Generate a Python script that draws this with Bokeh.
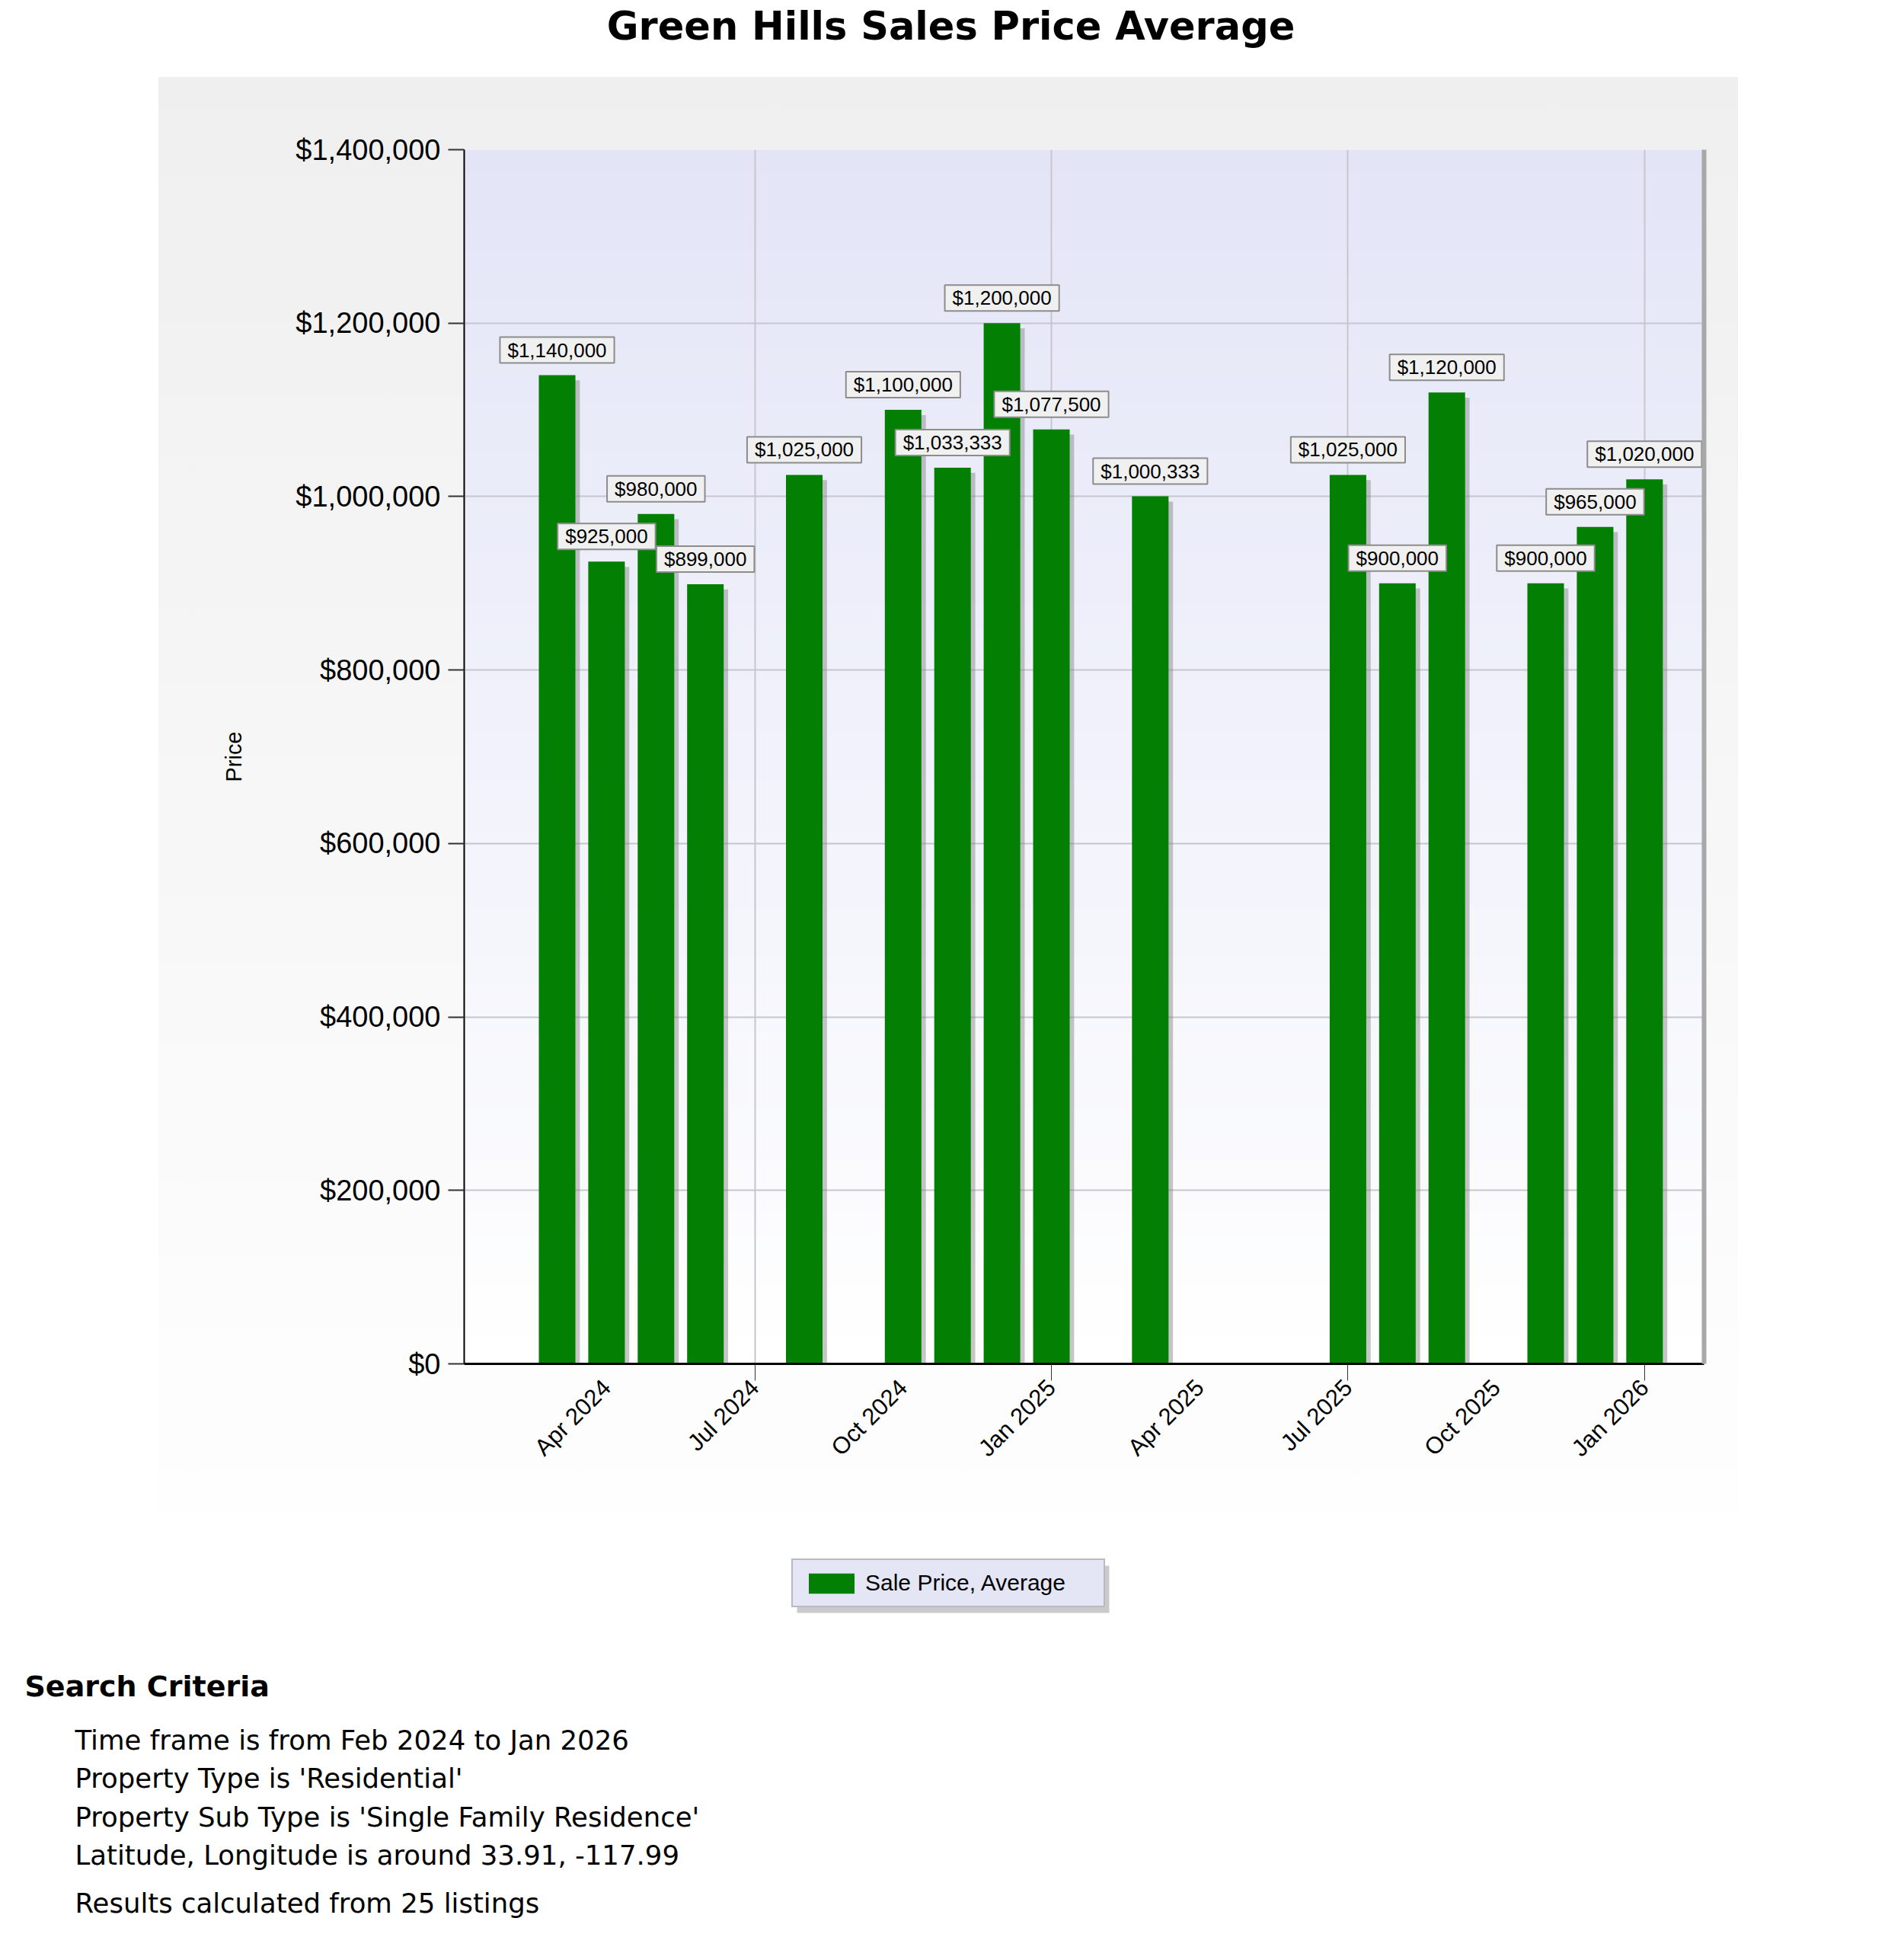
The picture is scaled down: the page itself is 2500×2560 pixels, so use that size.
import numpy as np
from bokeh.plotting import figure
from bokeh.layouts import column, row
from bokeh.models import (ColumnDataSource, FixedTicker, Label, Legend, LegendItem, LinearAxis,
                          BoxAnnotation, NumeralTickFormatter, Range1d, Spacer)
from bokeh.core.properties import value
from bokeh.embed import file_html
from bokeh.resources import INLINE

# ---------------- data ----------------
months = ["2024-03", "2024-04", "2024-05", "2024-06", "2024-08", "2024-10", "2024-11",
          "2024-12", "2025-01", "2025-03", "2025-07", "2025-08", "2025-09", "2025-11",
          "2025-12", "2026-01"]
prices = [1140000, 925000, 980000, 899000, 1025000, 1100000, 1033333, 1200000,
          1077500, 1000333, 1025000, 900000, 1120000, 900000, 965000, 1020000]
tick_months = ["2024-04", "2024-07", "2024-10", "2025-01", "2025-04", "2025-07", "2025-10", "2026-01"]
tick_labels = ["Apr 2024", "Jul 2024", "Oct 2024", "Jan 2025", "Apr 2025", "Jul 2025", "Oct 2025", "Jan 2026"]
grid_months = ["2024-07", "2025-01", "2025-07", "2026-01"]
y_ticks = [0, 200000, 400000, 600000, 800000, 1000000, 1200000, 1400000]

title_text = "Green Hills Sales Price Average"
y_label = "Price"
series_name = "Sale Price, Average"
criteria_title = "Search Criteria"
criteria_lines = ["Time frame is from Feb 2024 to Jan 2026",
                  "Property Type is 'Residential'",
                  "Property Sub Type is 'Single Family Residence'",
                  "Latitude, Longitude is around 33.91, -117.99"]
footer_line = "Results calculated from 25 listings"

BAR_COLOR = "#038003"


def month_index(s):
    y, m = s.split("-")
    return (int(y) - 2024) * 12 + int(m) - 1


xs = np.array([month_index(m) for m in months], dtype=float)
vals = np.array(prices, dtype=float)
tick_pos = [month_index(m) for m in tick_months]
grid_pos = [month_index(m) for m in grid_months]

src = ColumnDataSource(dict(x=xs, v=vals, xs_sh=xs + 0.09, v_sh=vals - 6000,
                            label=["${:,}".format(int(p)) for p in prices]))


def lerp(c0, c1, t):
    return "#%02x%02x%02x" % tuple(int(round(a + (b - a) * t)) for a, b in zip(c0, c1))


PAGE_W = 2490

# ---------------- top strip: title ----------------
TOP_H = 101
top = figure(width=PAGE_W, height=TOP_H, output_backend="svg", toolbar_location=None,
             x_axis_type=None, y_axis_type=None, min_border=0,
             x_range=Range1d(0, PAGE_W), y_range=Range1d(TOP_H, 0))
top.outline_line_color = None
top.border_fill_color = "#ffffff"
top.background_fill_color = "#ffffff"
top.add_layout(Label(x=1248, y=34, text=title_text, text_align="center", text_baseline="alphabetic",
                     text_font="DejaVu Sans", text_font_style="bold", text_font_size="51px",
                     text_color="#000000"))

# ---------------- main chart (grey panel) ----------------
PANEL_X = 208
MW, MH = 2074, 1884
ML, MR, MT, MB = 401, 45, 95, 195
FW = MW - ML - MR
MONTH_PX = 64.9
x0 = 0.12
main = figure(width=MW, height=MH, output_backend="svg", toolbar_location=None,
              x_range=Range1d(x0, x0 + FW / MONTH_PX), y_range=Range1d(0, 1400000),
              min_border_left=ML, min_border_right=MR, min_border_top=MT, min_border_bottom=MB)
main.border_fill_alpha = 0.0
main.styles = {"background-image": "linear-gradient(#efefef, #fefefe)"}
main.background_fill_color = "#ffffff"
main.outline_line_color = None

# frame gradient
m = 48
yedges = np.linspace(1400000, 0, m + 1)
for k in range(m):
    col = lerp((227, 229, 247), (255, 255, 255), (k + 0.5) / m)
    main.add_layout(BoxAnnotation(bottom=yedges[k + 1], top=yedges[k] + 1500,
                                  fill_color=col, fill_alpha=1.0, line_color=None, level="image"))

# bars with soft shadow
main.vbar(x="xs_sh", top="v_sh", width=0.74, source=src, fill_color="#808080", fill_alpha=0.45, line_color=None)
bars = main.vbar(x="x", top="v", width=0.74, source=src, fill_color=BAR_COLOR, line_color=None)

# value labels
main.text(x="x", y="v", text="label", source=src, y_offset=-33,
          text_align="center", text_baseline="middle",
          text_font=value("Liberation Sans"), text_font_size="26px", text_color="#000000",
          background_fill_color="#f0f0f0", border_line_color="#8c8c8c", border_line_width=2,
          padding=(10, 2))

# axes
main.yaxis.ticker = FixedTicker(ticks=y_ticks)
main.yaxis.formatter = NumeralTickFormatter(format="$0,0")
main.yaxis.major_label_text_font = "Liberation Sans"
main.yaxis.major_label_text_font_size = "38px"
main.yaxis.major_label_text_color = "#000000"
main.yaxis.major_tick_out = 21
main.yaxis.major_tick_in = 0
main.yaxis.major_tick_line_color = "#333333"
main.yaxis.major_tick_line_width = 2
main.yaxis.minor_tick_line_color = None
main.yaxis.major_label_standoff = 10
main.yaxis.axis_line_color = "#000000"
main.yaxis.axis_line_width = 2
main.yaxis.axis_label = y_label
main.yaxis.axis_label_text_font = "Liberation Sans"
main.yaxis.axis_label_text_font_size = "29px"
main.yaxis.axis_label_text_font_style = "normal"
main.yaxis.axis_label_text_color = "#000000"
main.yaxis.axis_label_standoff = 62

main.xaxis.ticker = FixedTicker(ticks=tick_pos, minor_ticks=grid_pos)
main.xaxis.major_label_overrides = {tp: lab for tp, lab in zip(tick_pos, tick_labels)}
main.xaxis.major_label_orientation = np.pi / 4
main.xaxis.major_label_text_font = "Liberation Sans"
main.xaxis.major_label_text_font_size = "31px"
main.xaxis.major_label_text_color = "#000000"
main.xaxis.major_tick_line_color = None
main.xaxis.major_tick_out = 0
main.xaxis.major_tick_in = 0
main.xaxis.minor_tick_out = 22
main.xaxis.minor_tick_in = 0
main.xaxis.minor_tick_line_color = "#333333"
main.xaxis.minor_tick_line_width = 1
main.xaxis.major_label_standoff = 4
main.xaxis.axis_line_color = "#000000"
main.xaxis.axis_line_width = 3

# right edge shadow
rax = LinearAxis(ticker=FixedTicker(ticks=[]), axis_line_color="#a8a8a8", axis_line_width=6,
                 major_tick_line_color=None, minor_tick_line_color=None,
                 major_label_text_font_size="0px")
main.add_layout(rax, "right")

main.xgrid.ticker = FixedTicker(ticks=grid_pos)
for g in (main.xgrid, main.ygrid):
    g.grid_line_color = "#c6c6cc"
    g.grid_line_width = 2

# ---------------- bottom strip: legend + search criteria ----------------
BOT_H = 570
bot = figure(width=PAGE_W, height=BOT_H, output_backend="svg", toolbar_location=None,
             x_axis_type=None, y_axis_type=None, min_border=0,
             x_range=Range1d(0, PAGE_W), y_range=Range1d(BOT_H, 0))
bot.outline_line_color = None
bot.border_fill_color = "#ffffff"
bot.background_fill_color = "#ffffff"

swatch = bot.vbar(x="x", top="v", width=0.74, source=src, fill_color=BAR_COLOR, line_color=None,
                  visible=False)
LX, LT, LW, LH = 1039, 63, 410, 62
bot.add_layout(BoxAnnotation(left=LX + 7, right=LX + LW + 7, top=LT + 7, bottom=LT + LH + 7,
                             fill_color="#8a8a8a", fill_alpha=0.45, line_color=None, level="underlay"))
legend = Legend(items=[LegendItem(label=series_name, renderers=[swatch])],
                location=(LX, BOT_H - LT - LH),
                orientation="horizontal", padding=13, margin=0, spacing=0,
                glyph_width=75, glyph_height=33, label_standoff=7, label_width=300,
                label_text_font="Liberation Sans", label_text_font_size="30px", label_text_color="#000000",
                background_fill_color="#e4e6f6", background_fill_alpha=1.0,
                border_line_color="#8c8c8c", border_line_width=2, inactive_fill_alpha=0.0)
bot.add_layout(legend)

bot.add_layout(Label(x=32, y=228, text=criteria_title, text_align="left", text_baseline="middle",
                     text_font="DejaVu Sans", text_font_style="bold", text_font_size="38px",
                     text_color="#000000"))
for i, line in enumerate(criteria_lines):
    bot.add_layout(Label(x=98, y=299 + 50.3 * i, text=line, text_align="left", text_baseline="middle",
                         text_font="DejaVu Sans", text_font_size="35.5px", text_color="#000000"))
bot.add_layout(Label(x=98, y=513, text=footer_line, text_align="left", text_baseline="middle",
                     text_font="DejaVu Sans", text_font_size="35.5px", text_color="#000000"))

layout = column(top, row(Spacer(width=PANEL_X, height=MH), main), bot)
open("out.html", "w").write(file_html(layout, INLINE))
